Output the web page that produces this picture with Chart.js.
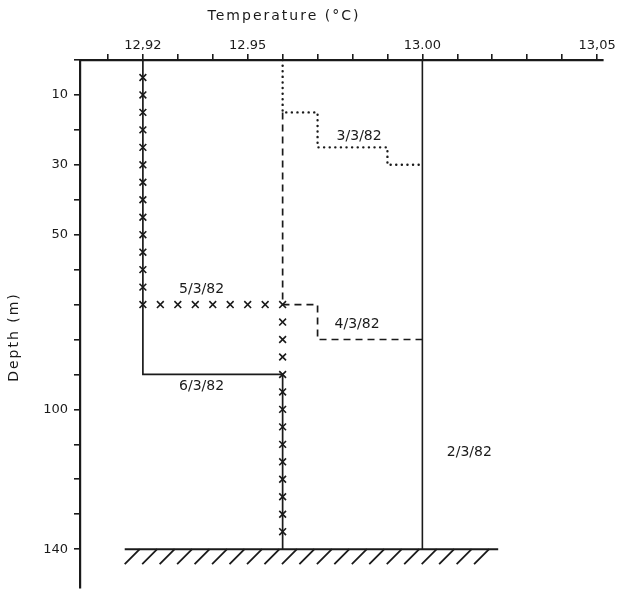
<!DOCTYPE html>
<html>
<head>
<meta charset="utf-8">
<script src="https://cdn.jsdelivr.net/npm/chart.js@4/dist/chart.umd.min.js"></script>
<style>
  html, body { margin: 0; padding: 0; background: #fff; }
  #wrap { width: 619px; height: 594px; }
</style>
</head>
<body>
<div id="wrap"><canvas id="myChart" width="619" height="594"></canvas></div>
<script>
// Perfiles de temperatura (x = temperatura ºC, y = profundidad m)
const temp2 = [13.00, 13.00]
const depth2 = [0, 140]

const temp3 = [12.96, 12.96, 12.97, 12.97, 12.99, 12.99, 13.00]
const depth3 = [0, 15, 15, 25, 25, 30, 30]

const temp4 = [12.96, 12.96, 12.97, 12.97, 13.00]
const depth4 = [15, 70, 70, 80, 80]

// 5/3/82 solo marcas x
const temp5 = [
  12.92, 12.92, 12.92, 12.92, 12.92, 12.92, 12.92, 12.92, 12.92, 12.92, 12.92, 12.92, 12.92, 12.92,
  12.925, 12.93, 12.935, 12.94, 12.945, 12.95, 12.955, 12.96,
  12.96, 12.96, 12.96, 12.96, 12.96, 12.96, 12.96, 12.96, 12.96, 12.96, 12.96, 12.96, 12.96
]
const depth5 = [
  5, 10, 15, 20, 25, 30, 35, 40, 45, 50, 55, 60, 65, 70,
  70, 70, 70, 70, 70, 70, 70, 70,
  75, 80, 85, 90, 95, 100, 105, 110, 115, 120, 125, 130, 135
]

const temp6 = [12.92, 12.92, 12.96, 12.96]
const depth6 = [0, 90, 90, 140]

// Ejes
const xTickValues = [12.91, 12.92, 12.93, 12.94, 12.95, 12.96, 12.97, 12.98, 12.99, 13.00, 13.01, 13.02, 13.03, 13.04, 13.05]
const xTickLabels = { '12.92': '12,92', '12.95': '12.95', '13.00': '13.00', '13.05': '13,05' }
const yTickValues = [0, 10, 20, 30, 40, 50, 60, 70, 80, 90, 100, 110, 120, 130, 140]
const yTickLabels = [10, 30, 50, 100, 140]
const seabedDepth = 140

const seriesNames = ['2/3/82', '3/3/82', '4/3/82', '5/3/82', '6/3/82']

const ink = '#1a1a1a'
const toPoints = (xs, ys) => xs.map((x, i) => ({ x: x, y: ys[i] }))

// Etiquetas de las series y fondo rayado
const decorPlugin = {
  id: 'decor',
  afterDatasetsDraw(chart) {
    const { ctx, scales: { x, y } } = chart
    ctx.save()
    // fondo marino
    const yb = y.getPixelForValue(seabedDepth)
    const xa = x.getPixelForValue(12.9148)
    const xb = x.getPixelForValue(13.0217)
    ctx.strokeStyle = ink
    ctx.lineWidth = 2
    ctx.beginPath()
    ctx.moveTo(xa, yb)
    ctx.lineTo(xb, yb)
    ctx.stroke()
    ctx.lineWidth = 1.8
    for (let i = 0; i < 21; i++) {
      const px = x.getPixelForValue(12.9148 + i * 0.005)
      ctx.beginPath()
      ctx.moveTo(px, yb + 15)
      ctx.lineTo(px + 15, yb)
      ctx.stroke()
    }
    // nombres de los perfiles
    const labelPos = [[13.007, 112.4, 'left'], [12.9819, 21.8, 'center'], [12.9813, 75.7, 'center'], [12.9368, 65.6, 'center'], [12.9368, 93.4, 'center']]
    ctx.fillStyle = ink
    ctx.font = '14px "DejaVu Sans"'
    ctx.textBaseline = 'middle'
    seriesNames.forEach((name, i) => {
      const [t, d, align] = labelPos[i]
      ctx.textAlign = align
      ctx.fillText(name, x.getPixelForValue(t), y.getPixelForValue(d))
    })
    // titulos de los ejes
    ctx.font = '14px "DejaVu Sans"'
    if ('letterSpacing' in ctx) ctx.letterSpacing = '2px'
    ctx.textAlign = 'center'
    ctx.fillText('Temperature (°C)', 284, 16)
    ctx.translate(14, 337)
    ctx.rotate(-Math.PI / 2)
    ctx.fillText('Depth (m)', 0, 0)
    ctx.restore()
  }
}

const ctx = document.getElementById('myChart')

new Chart(ctx, {
  type: 'line',
  data: {
    datasets: [
      { label: seriesNames[0], data: toPoints(temp2, depth2), borderColor: ink, borderWidth: 1.6, pointRadius: 0 },
      { label: seriesNames[1], data: toPoints(temp3, depth3), borderColor: ink, borderWidth: 2.4, borderDash: [0.1, 5.5], borderCapStyle: 'round', pointRadius: 0 },
      { label: seriesNames[2], data: toPoints(temp4, depth4), borderColor: ink, borderWidth: 1.7, borderDash: [7, 5], pointRadius: 0 },
      { label: seriesNames[4], data: toPoints(temp6, depth6), borderColor: ink, borderWidth: 1.7, pointRadius: 0 },
      { label: seriesNames[3], data: toPoints(temp5, depth5), showLine: false, pointStyle: 'crossRot', pointRadius: 4.8, pointBorderWidth: 1.6, borderColor: ink, backgroundColor: ink }
    ]
  },
  options: {
    responsive: false,
    animation: false,
    layout: { padding: { left: 0, top: 0, right: 16, bottom: 0 } },
    plugins: { legend: { display: false }, tooltip: { enabled: false } },
    scales: {
      x: {
        type: 'linear',
        position: 'top',
        min: 12.902,
        max: 13.0517,
        afterBuildTicks: scale => { scale.ticks = xTickValues.map(v => ({ value: v })) },
        afterFit: scale => { scale.height = 60 },
        ticks: {
          color: ink,
          padding: 1,
          maxRotation: 0,
          autoSkip: false,
          font: { family: 'DejaVu Sans', size: 13 },
          callback: v => xTickLabels[v.toFixed(2)] || ''
        },
        grid: { drawOnChartArea: false, drawTicks: true, tickLength: 6, color: ink, lineWidth: 1.6 },
        border: { color: ink, width: 2.2 }
      },
      y: {
        type: 'linear',
        reverse: true,
        min: 0,
        max: 151,
        afterBuildTicks: scale => { scale.ticks = yTickValues.map(v => ({ value: v })) },
        afterFit: scale => { scale.width = 80; scale.paddingTop = 0; scale.paddingBottom = 0 },
        ticks: {
          color: ink,
          padding: 6,
          autoSkip: false,
          font: { family: 'DejaVu Sans', size: 13 },
          callback: v => yTickLabels.includes(v) ? String(v) : ''
        },
        grid: { drawOnChartArea: false, drawTicks: true, tickLength: 6, color: ink, lineWidth: 1.6 },
        border: { color: ink, width: 2.2 }
      }
    }
  },
  plugins: [decorPlugin]
})
</script>
</body>
</html>
